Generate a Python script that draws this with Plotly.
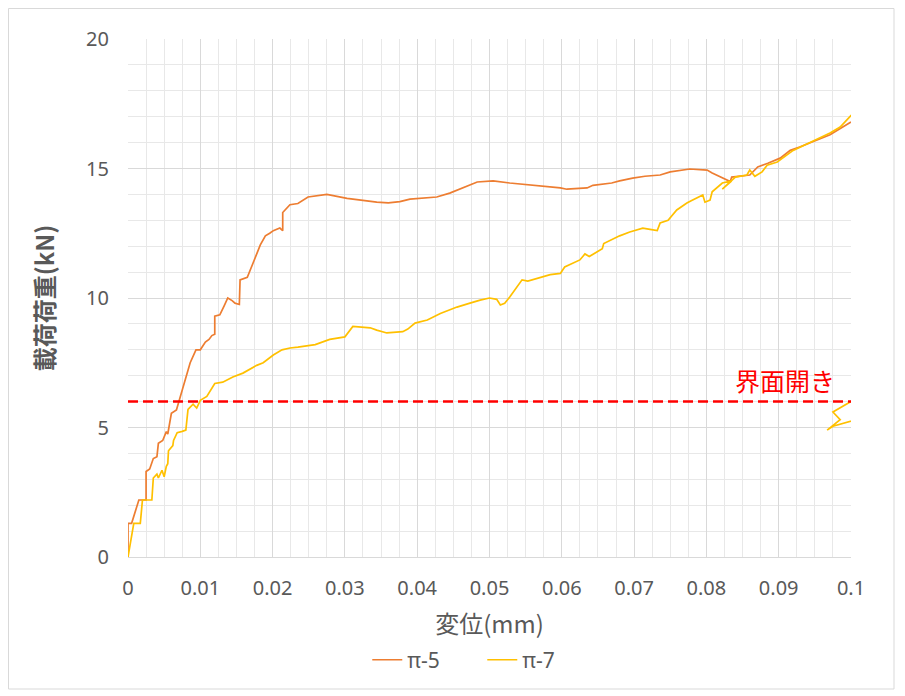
import plotly.graph_objects as go

# π-5 (orange)
x_p5 = [0, 0, 0.0005, 0.0015, 0.0025, 0.0025, 0.003, 0.0035, 0.004, 0.0042, 0.0048, 0.0053, 0.0055,
        0.006, 0.0067, 0.0071, 0.0079, 0.0086, 0.0094, 0.0100, 0.0107, 0.0112, 0.0116, 0.012, 0.012,
        0.0127, 0.0133, 0.0138, 0.0144, 0.0148, 0.0154, 0.0155, 0.0165, 0.0169, 0.0173, 0.0183, 0.019,
        0.0196, 0.0201, 0.021, 0.0214, 0.0214, 0.0224, 0.0235, 0.0249, 0.0275, 0.0303, 0.0344, 0.036,
        0.0376, 0.039, 0.0427, 0.0445, 0.0483, 0.0505, 0.0528, 0.056, 0.0598, 0.0607, 0.0635, 0.0643,
        0.0669, 0.068, 0.0698, 0.0715, 0.0736, 0.075, 0.0777, 0.0801, 0.0808, 0.0833, 0.0835, 0.086,
        0.0871, 0.0885, 0.0902, 0.0916, 0.0929, 0.0971, 0.1]
y_p5 = [0, 1.3, 1.3, 2.2, 2.2, 3.3, 3.4, 3.8, 3.87, 4.39, 4.5, 4.84, 4.75,
        5.55, 5.68, 6.06, 6.83, 7.5, 8.0, 8.0, 8.3, 8.4, 8.55, 8.6, 9.3,
        9.35, 9.7, 10.0, 9.9, 9.8, 9.75, 10.7, 10.8, 11.05, 11.35, 12.05, 12.4,
        12.5, 12.6, 12.7, 12.6, 13.3, 13.6, 13.65, 13.9, 14.0, 13.85, 13.7, 13.67,
        13.72, 13.82, 13.9, 14.05, 14.48, 14.52, 14.44, 14.36, 14.25, 14.2, 14.25, 14.35,
        14.44, 14.52, 14.63, 14.7, 14.75, 14.87, 14.98, 14.94, 14.83, 14.5, 14.67, 14.75,
        15.06, 15.2, 15.4, 15.7, 15.83, 16.3, 16.8]

# π-7 (yellow)
x_p7 = [0, 0.0008, 0.0017, 0.002, 0.0033, 0.0035, 0.004, 0.0042, 0.0047, 0.005, 0.0053, 0.0055,
        0.0056, 0.0062, 0.0063, 0.0068, 0.0075, 0.008, 0.0083, 0.009, 0.0095, 0.01, 0.0109, 0.012,
        0.0131, 0.0145, 0.0159, 0.0178, 0.0187, 0.0201, 0.0213, 0.0224, 0.0235, 0.0259, 0.0279, 0.03,
        0.0311, 0.0321, 0.0335, 0.0344, 0.0358, 0.038, 0.0387, 0.0397, 0.0414, 0.0432, 0.0455, 0.0473,
        0.0487, 0.05, 0.051, 0.0515, 0.0521, 0.0528, 0.0545, 0.0553, 0.0573, 0.0584, 0.0598, 0.0604,
        0.0625, 0.0632, 0.0638, 0.0656, 0.0658, 0.068, 0.0694, 0.0712, 0.0722, 0.0732, 0.0736, 0.0747,
        0.0759, 0.0773, 0.0781, 0.0795, 0.0798, 0.0805, 0.0808, 0.0822, 0.0835, 0.0822, 0.084, 0.0856,
        0.086, 0.0867, 0.0877, 0.0884, 0.0898, 0.092, 0.093, 0.0971, 0.0985, 0.1, 0.102,
        0.1025, 0.0975, 0.0985, 0.0967, 0.0975, 0.102]
y_p7 = [0, 1.3, 1.3, 2.2, 2.2, 3.05, 3.2, 3.05, 3.35, 3.1, 3.5, 3.6,
        4.1, 4.3, 4.5, 4.8, 4.85, 4.9, 5.7, 5.9, 5.75, 6.05, 6.2, 6.7,
        6.75, 6.95, 7.1, 7.4, 7.5, 7.8, 8.0, 8.07, 8.1, 8.2, 8.4, 8.5,
        8.9, 8.88, 8.85, 8.76, 8.65, 8.7, 8.8, 9.03, 9.15, 9.4, 9.65, 9.8,
        9.92, 10.0, 9.95, 9.73, 9.8, 10.04, 10.7, 10.65, 10.8, 10.9, 10.95, 11.2,
        11.47, 11.7, 11.6, 11.9, 12.1, 12.4, 12.55, 12.7, 12.65, 12.6, 12.9, 13.0,
        13.4, 13.67, 13.78, 13.98, 13.7, 13.78, 14.1, 14.44, 14.52, 14.2, 14.67, 14.75,
        14.94, 14.7, 14.87, 15.13, 15.25, 15.7, 15.83, 16.37, 16.6, 17.05, 17.3,
        6.4, 5.6, 5.3, 4.9, 5.05, 5.4]

# threshold
thr_x = [0, 0.1]
thr_y = [6, 6]
thr_label = "界面開き"

x_ticks = [0, 0.01, 0.02, 0.03, 0.04, 0.05, 0.06, 0.07, 0.08, 0.09, 0.1]
y_ticks = [0, 5, 10, 15, 20]

FONT = "Noto Sans, Noto Sans CJK JP"
CJK = "Noto Sans CJK JP"
GREY = "#595959"

# page has an 8px body margin; plot area in figure coords: left 120, top 31, 723 x 518
L, T, PW, PH = 120, 31, 723, 518

fig = go.Figure()
fig.add_trace(go.Scatter(x=x_p5, y=y_p5, mode="lines", name="π-5",
                         line=dict(color="#ED7D31", width=1.7)))
fig.add_trace(go.Scatter(x=x_p7, y=y_p7, mode="lines", name="π-7",
                         line=dict(color="#FFC000", width=1.7)))
fig.add_trace(go.Scatter(x=thr_x, y=thr_y, mode="lines", showlegend=False,
                         line=dict(color="#FF0000", width=2.5, dash="10px,5px")))

fig.add_annotation(x=0.0909, y=6.83, text=thr_label, showarrow=False,
                   font=dict(family=CJK, size=25, color="#FF0000"))

# outer chart border
fig.add_shape(type="rect", xref="paper", yref="paper",
              x0=(0.5 - L) / PW, x1=(886 - L) / PW,
              y0=(T + PH - 681) / PH, y1=(T + PH - 0.5) / PH,
              line=dict(color="#D9D9D9", width=1), layer="below")

fig.update_layout(
    width=905, height=696,
    margin=dict(l=L, r=905 - L - PW, t=T, b=696 - T - PH),
    paper_bgcolor="white", plot_bgcolor="white",
    font=dict(family=FONT, color=GREY, size=20),
    legend=dict(orientation="h", x=0.49, xanchor="center", y=-0.199, yanchor="middle",
                font=dict(size=21, color=GREY), entrywidth=70, entrywidthmode="pixels"),
    xaxis=dict(range=[0, 0.1], tickvals=x_ticks, ticktext=[("%g" % v) for v in x_ticks],
               showgrid=True, gridcolor="#D9D9D9", gridwidth=1,
               minor=dict(dtick=0.0025, showgrid=True, gridcolor="#E8E8E8", gridwidth=1),
               showline=True, linecolor="#D9D9D9", linewidth=1, zeroline=False,
               ticks="", ticklabelstandoff=13, tickfont=dict(size=20),
               title=dict(text="変位(mm)", font=dict(family=CJK, size=24, color=GREY), standoff=16)),
    yaxis=dict(range=[0, 20], tickvals=y_ticks,
               showgrid=True, gridcolor="#D9D9D9", gridwidth=1,
               minor=dict(dtick=1, showgrid=True, gridcolor="#E8E8E8", gridwidth=1),
               showline=False, zeroline=False,
               ticks="", ticklabelstandoff=18, tickfont=dict(size=20),
               title=dict(text="<b>載荷荷重(kN)</b>", font=dict(family=CJK, size=24, color=GREY), standoff=24)),
)

fig.write_html("out.html")
